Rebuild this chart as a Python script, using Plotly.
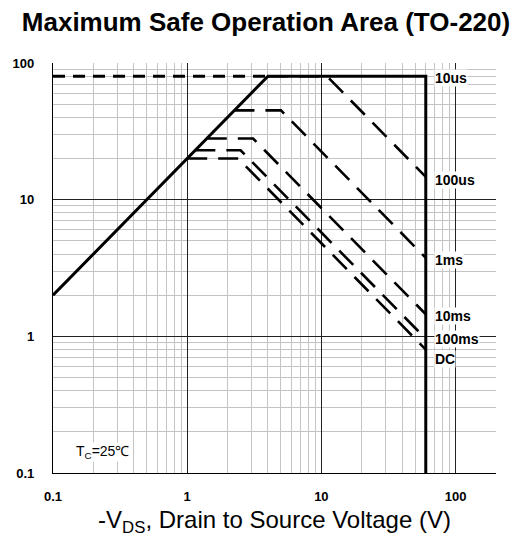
import math
import plotly.graph_objects as go

# ---- data ----
# safe-operation boundary (RDS(on) limit, current limit, voltage limit)
boundary_v = [0.1, 4, 60, 60]
boundary_i = [2, 80, 80, 0.1]

# current-limit extension (short dashes)
ext_v = [0.1, 4]
ext_i = [80, 80]

# pulse-width curves
curve_names = ["100us", "1ms", "10ms", "100ms", "DC"]
curve_v = [
    [4, 11, 60],
    [2.25, 5.0, 60],
    [1.4, 3.1, 60],
    [1.15, 2.5, 60],
    [1.0, 2.4, 60],
]
curve_i = [
    [80, 80, 14.7],
    [45, 45, 3.75],
    [28, 28, 1.45],
    [23, 23, 0.96],
    [20, 20, 0.80],
]

# curve labels
label_text = ["10us", "100us", "1ms", "10ms", "100ms", "DC"]
label_v = [69.6, 69.6, 69.6, 69.6, 69.6, 69.6]
label_i = [77.6, 13.9, 3.62, 1.42, 0.957, 0.684]

tc_text = "T<sub>C</sub>=25℃"
tc_v = 0.146
tc_i = 0.1426

tick_vals_x = [0.1, 1, 10, 100]
tick_text_x = ["0.1", "1", "10", "100"]
tick_vals_y = [0.1, 1, 10, 100]
tick_text_y = ["0.1", "1", "10", "100"]

FONT = "Liberation Sans, Arial, sans-serif"

fig = go.Figure()

for v, i in zip(curve_v, curve_i):
    fig.add_trace(go.Scatter(x=v, y=i, mode="lines",
                             line=dict(color="black", width=2.6, dash="20px,11px"),
                             showlegend=False, hoverinfo="skip"))

fig.add_trace(go.Scatter(x=ext_v, y=ext_i, mode="lines",
                         line=dict(color="black", width=3, dash="12px,8px"),
                         showlegend=False, hoverinfo="skip"))

fig.add_trace(go.Scatter(x=boundary_v, y=boundary_i, mode="lines",
                         line=dict(color="black", width=3),
                         showlegend=False, hoverinfo="skip"))

# annotations on log axes take log10 positions
for t, v, i in zip(label_text, label_v, label_i):
    fig.add_annotation(x=math.log10(v), y=math.log10(i), xref="x", yref="y",
                       text="<b>" + t + "</b>",
                       showarrow=False, xanchor="left", yanchor="middle",
                       font=dict(family=FONT, size=14, color="black"),
                       bgcolor="white", borderpad=0)

fig.add_annotation(x=math.log10(tc_v), y=math.log10(tc_i), xref="x", yref="y",
                   text=tc_text, showarrow=False,
                   xanchor="left", yanchor="middle",
                   font=dict(family=FONT, size=14, color="black"),
                   bgcolor="white", borderpad=0)

axis_common = dict(
    showline=True, linecolor="black", linewidth=1.2,
    showgrid=True, gridcolor="#222222", gridwidth=1,
    zeroline=False, ticks="", automargin=False,
    tickfont=dict(family=FONT, size=13, color="black", weight="bold"),
    minor=dict(dtick="D1", showgrid=True, gridcolor="#c4c4c4", gridwidth=1, ticks=""),
)

fig.update_xaxes(type="log", range=[-1, 2.3015], tickvals=tick_vals_x,
                 ticktext=tick_text_x, ticklabelstandoff=11,
                 title=dict(text="-V<sub>DS</sub>, Drain to Source Voltage (V)",
                            font=dict(family=FONT, size=24, color="black"),
                            standoff=8),
                 **axis_common)
fig.update_yaxes(type="log", range=[-1, 2], tickvals=tick_vals_y,
                 ticktext=tick_text_y, ticklabelstandoff=15, **axis_common)

# page body adds an 8px offset, so the figure is sized to fit the window
fig.update_layout(
    width=516, height=531,
    margin=dict(l=45, r=28, t=55, b=66),
    paper_bgcolor="white", plot_bgcolor="white",
    title=dict(text="<b>Maximum Safe Operation Area (TO-220)</b>",
               x=0.5, xanchor="center", y=1 - 14 / 531, yanchor="middle",
               font=dict(family=FONT, size=26, color="black")),
    font=dict(family=FONT, color="black"),
)

fig.write_html("out.html")
